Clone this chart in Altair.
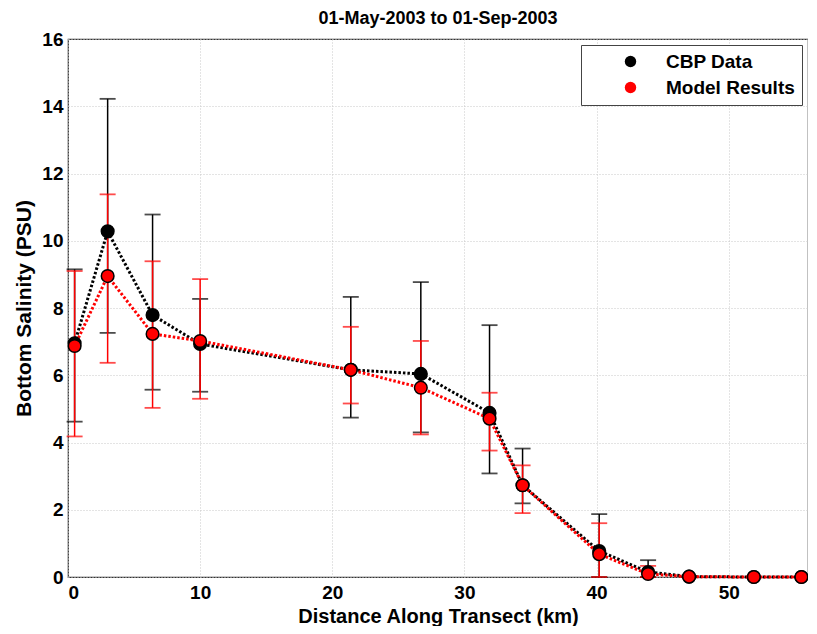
import altair as alt
import pandas as pd

dist = [0.5, 3.0, 6.4, 10.0, 21.4, 26.7, 31.9, 34.4, 40.2, 43.9, 47.0, 51.9, 55.5]
cbp_mean = [6.95, 10.28, 7.79, 6.93, 6.16, 6.04, 4.88, 2.73, 0.77, 0.15, 0.01, 0.0, 0.0]
cbp_upper = [9.15, 14.22, 10.78, 8.27, 8.33, 8.77, 7.49, 3.82, 1.87, 0.50, 0.02, 0.0, 0.0]
cbp_lower = [4.62, 7.26, 5.57, 5.51, 4.74, 4.30, 3.08, 2.19, 0.0, 0.0, 0.0, 0.0, 0.0]
model_mean = [6.87, 8.95, 7.23, 7.02, 6.16, 5.63, 4.71, 2.73, 0.68, 0.09, 0.01, 0.0, 0.0]
model_upper = [9.10, 11.38, 9.39, 8.86, 7.44, 7.02, 5.48, 3.32, 1.60, 0.33, 0.02, 0.0, 0.0]
model_lower = [4.18, 6.37, 5.03, 5.30, 5.16, 4.24, 3.76, 1.90, 0.0, 0.0, 0.0, 0.0, 0.0]

series_names = ["CBP Data", "Model Results"]
series_colors = ["black", "red"]

cbp = pd.DataFrame({"dist": dist, "mean": cbp_mean, "upper": cbp_upper,
                    "lower": cbp_lower, "series": series_names[0]})
mod = pd.DataFrame({"dist": dist, "mean": model_mean, "upper": model_upper,
                    "lower": model_lower, "series": series_names[1]})

FONT = "Liberation Sans"

xs = alt.Scale(domain=[0, 56], nice=False)
ys = alt.Scale(domain=[0, 16], nice=False)

x_enc = alt.X("dist:Q", scale=xs, title="Distance Along Transect (km)",
              axis=alt.Axis(values=[0, 10, 20, 30, 40, 50]))
y_enc = alt.Y("mean:Q", scale=ys, title="Bottom Salinity (PSU)",
              axis=alt.Axis(values=list(range(0, 17, 2))))


def err_layers(df, color):
    base = alt.Chart(df)
    rule = base.mark_rule(color=color, strokeWidth=1.5).encode(
        x=alt.X("dist:Q", scale=xs), y=alt.Y("lower:Q", scale=ys), y2="upper:Q")
    cap_hi = base.mark_tick(color=color, orient="horizontal", size=16, thickness=1.8).encode(
        x=alt.X("dist:Q", scale=xs), y=alt.Y("upper:Q", scale=ys))
    cap_lo = base.mark_tick(color=color, orient="horizontal", size=16, thickness=1.8).encode(
        x=alt.X("dist:Q", scale=xs), y=alt.Y("lower:Q", scale=ys))
    return [rule, cap_hi, cap_lo]


def line_layer(df, color):
    return alt.Chart(df).mark_line(color=color, strokeWidth=3, strokeDash=[2.5, 2]).encode(
        x=x_enc, y=y_enc)


color_scale = alt.Scale(domain=series_names, range=series_colors)

points = alt.Chart(pd.concat([cbp, mod])).mark_point(
    filled=True, size=160, stroke="black", strokeWidth=1.5, opacity=1
).encode(
    x=x_enc, y=y_enc,
    fill=alt.Fill("series:N", scale=color_scale,
                  legend=alt.Legend(title=None, orient="top-right", offset=6,
                                    strokeColor="#444", fillColor="white",
                                    padding=7, symbolOffset=33, labelOffset=26,
                                    symbolType="circle", symbolSize=130,
                                    symbolStrokeColor="black", symbolStrokeWidth=0,
                                    labelFontSize=19, labelFont=FONT,
                                    labelFontWeight="bold", labelColor="black",
                                    rowPadding=6, labelLimit=300)),
    order=alt.Order("series:N"),
)

layers = err_layers(cbp, "black") + err_layers(mod, "red") + [
    line_layer(cbp, "black"), line_layer(mod, "red"), points]

chart = alt.layer(*layers).properties(
    width=740, height=538,
    title=alt.Title("01-May-2003 to 01-Sep-2003", font=FONT, fontSize=18,
                    fontWeight="bold", color="black", offset=2),
    autosize=alt.AutoSizeParams(type="none"),
    padding={"left": 60, "top": 31, "right": 0, "bottom": 49},
).configure_view(
    stroke="#333", strokeWidth=1.2
).configure_axis(
    grid=True, gridColor="#c8c8c8", gridDash=[1, 2], gridWidth=1,
    domain=False, ticks=False,
    labelFont=FONT, labelFontSize=19, labelFontWeight="bold", labelColor="black",
    titleFont=FONT, titleFontSize=21, titleFontWeight="bold", titleColor="black",
).configure_axisX(
    labelPadding=6, titlePadding=4, titleFontSize=20,
).configure_axisY(
    labelPadding=5, titlePadding=7,
)

chart.save("out.html", embed_options={"renderer": "svg", "actions": False})
